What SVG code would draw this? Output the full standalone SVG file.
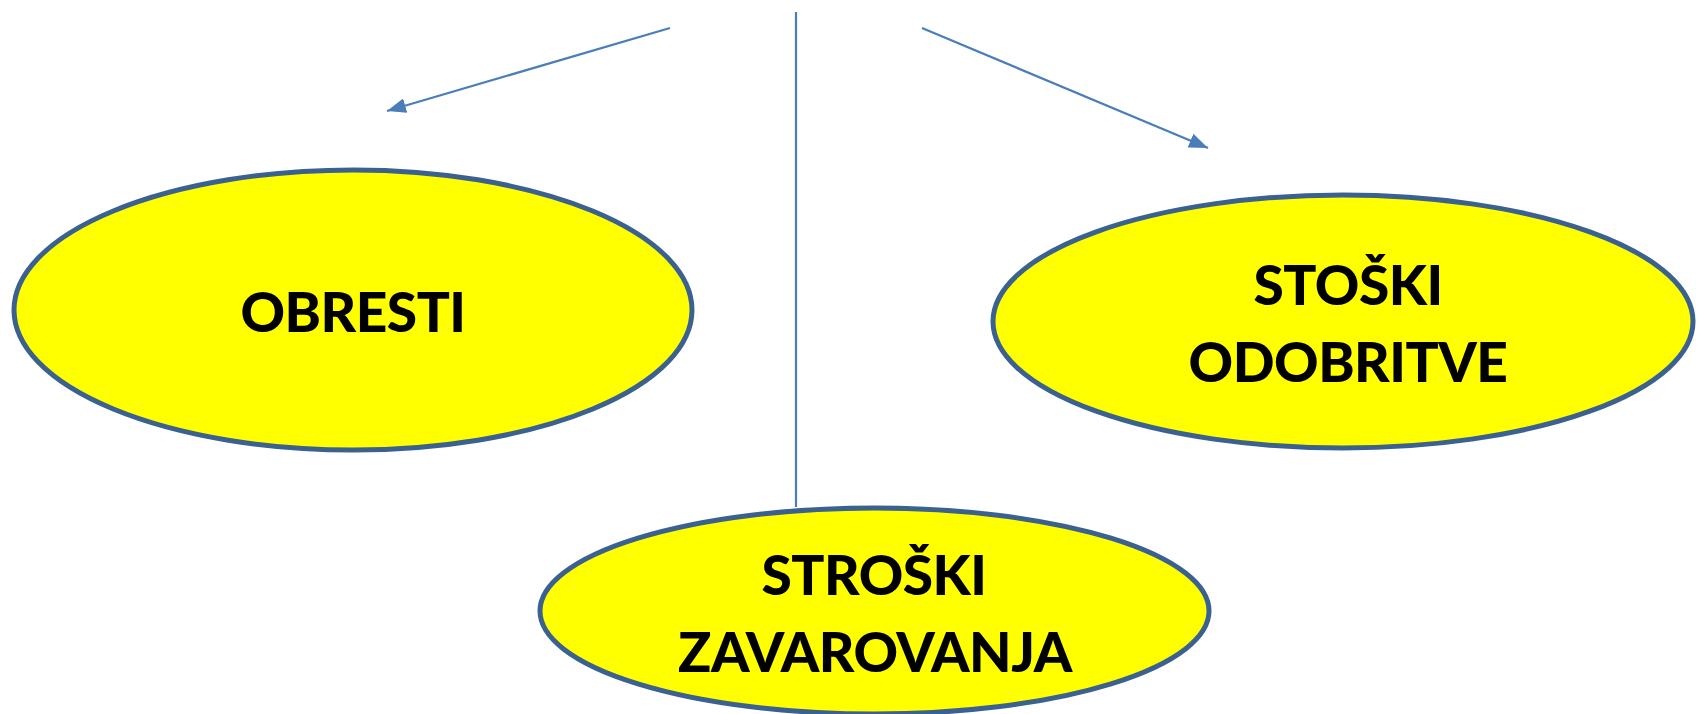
<svg xmlns="http://www.w3.org/2000/svg" width="1700" height="714" viewBox="0 0 1700 714">
<style>
.node ellipse{fill:#FFFF00;stroke:#3B6190;stroke-width:5}
.node text{font-family:Lato,"Liberation Sans",sans-serif;font-weight:900;font-size:55px;fill:#000;text-anchor:middle;letter-spacing:-0.5px}
.conn line{stroke:#4A7EBB;stroke-width:2.2;fill:none}
</style>
<defs>
<marker id="arr" markerUnits="userSpaceOnUse" viewBox="0 0 19 15" markerWidth="19" markerHeight="15" refX="19" refY="7.5" orient="auto">
<path d="M0,0 L19,7.5 L0,15 z" fill="#4A7EBB"/>
</marker>
</defs>
<rect width="1700" height="714" fill="#fff"/>
<g id="n-obresti" class="node">
<ellipse cx="353" cy="310" rx="339" ry="140"/>
<text x="353" y="332">OBRESTI</text>
</g>
<g id="n-odobritve" class="node">
<ellipse cx="1343" cy="321.5" rx="350" ry="126.5"/>
<text x="1348" y="305">STOŠKI</text>
<text x="1348" y="382">ODOBRITVE</text>
</g>
<g id="connectors" class="conn">
<line x1="670" y1="28" x2="387" y2="111" marker-end="url(#arr)"/>
<line x1="922" y1="28" x2="1208" y2="148" marker-end="url(#arr)"/>
<line x1="796" y1="12" x2="796" y2="507"/>
</g>
<g id="n-zavarovanja" class="node">
<ellipse cx="874.5" cy="611" rx="334.5" ry="103"/>
<text x="874" y="595">STROŠKI</text>
<text x="875" y="672">ZAVAROVANJA</text>
</g>
</svg>
